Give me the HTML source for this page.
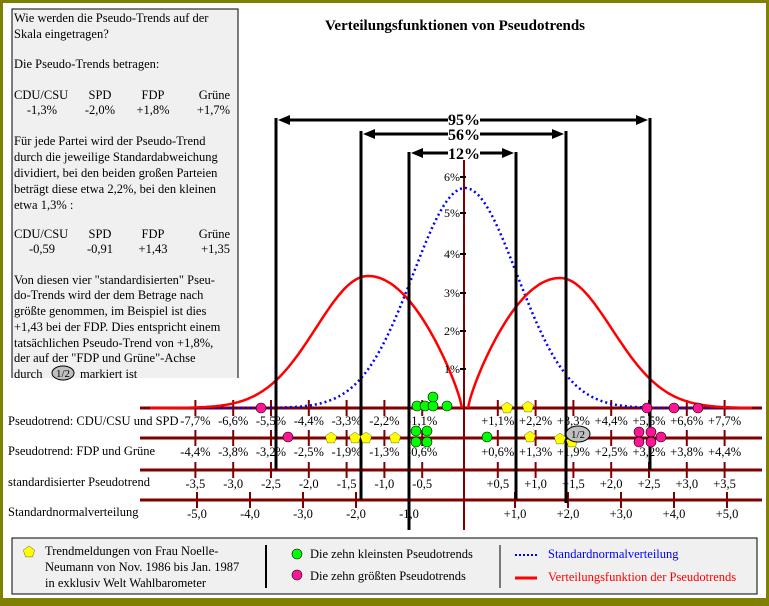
<!DOCTYPE html>
<html><head><meta charset="utf-8"><style>
html,body{margin:0;padding:0;background:#fff}
svg{display:block}
text{font-family:"Liberation Serif",serif}
</style></head><body>
<svg id="s" width="769" height="606" viewBox="0 0 769 606" xmlns="http://www.w3.org/2000/svg">
<rect x="0" y="0" width="769" height="606" fill="#808000"/>
<rect x="3" y="3" width="763" height="595" fill="#fff"/>
<rect x="12" y="9" width="226" height="369" fill="#f0f0f0"/>
<path d="M12 378V9H238V378" fill="none" stroke="#000" stroke-width="1"/>
<g font-size="12.5" fill="#000">
<text x="14" y="22">Wie werden die Pseudo-Trends auf der</text>
<text x="14" y="38">Skala eingetragen?</text>
<text x="14" y="68">Die Pseudo-Trends betragen:</text>
<text x="14" y="99">CDU/CSU</text><text x="100" y="99" text-anchor="middle">SPD</text><text x="153" y="99" text-anchor="middle">FDP</text><text x="230" y="99" text-anchor="end">Grüne</text>
<text x="42" y="114" text-anchor="middle">-1,3%</text><text x="100" y="114" text-anchor="middle">-2,0%</text><text x="153" y="114" text-anchor="middle">+1,8%</text><text x="230" y="114" text-anchor="end">+1,7%</text>
<text x="14" y="145">Für jede Partei wird der Pseudo-Trend</text>
<text x="14" y="161">durch die jeweilige Standardabweichung</text>
<text x="14" y="177">dividiert, bei den beiden großen Parteien</text>
<text x="14" y="193">beträgt diese etwa 2,2%, bei den kleinen</text>
<text x="14" y="209">etwa 1,3% :</text>
<text x="14" y="238">CDU/CSU</text><text x="100" y="238" text-anchor="middle">SPD</text><text x="153" y="238" text-anchor="middle">FDP</text><text x="230" y="238" text-anchor="end">Grüne</text>
<text x="42" y="253" text-anchor="middle">-0,59</text><text x="100" y="253" text-anchor="middle">-0,91</text><text x="153" y="253" text-anchor="middle">+1,43</text><text x="230" y="253" text-anchor="end">+1,35</text>
<text x="14" y="284">Von diesen vier "standardisierten" Pseu-</text>
<text x="14" y="299">do-Trends wird der dem Betrage nach</text>
<text x="14" y="315">größte genommen, im Beispiel ist dies</text>
<text x="14" y="331">+1,43 bei der FDP. Dies entspricht einem</text>
<text x="14" y="347">tatsächlichen Pseudo-Trend von +1,8%,</text>
<text x="14" y="362">der auf der "FDP und Grüne"-Achse</text>
<text x="14" y="378">durch</text>
<ellipse cx="63" cy="373" rx="11" ry="7" fill="#c0c0c0" stroke="#000"/><text x="63" y="377" text-anchor="middle" font-size="11">1/2</text>
<text x="80" y="378">markiert ist</text>
</g>
<text x="455" y="30" text-anchor="middle" font-size="15" font-weight="bold">Verteilungsfunktionen von Pseudotrends</text>
<g id="axes" stroke="#800000"></g>
<g id="curves"></g>
<g id="black" stroke="#000" stroke-width="3">
<line x1="276" y1="118" x2="276" y2="470"/>
<line x1="361" y1="131" x2="361" y2="500"/>
<line x1="409" y1="152" x2="409" y2="530"/>
<line x1="516" y1="152" x2="516" y2="500"/>
<line x1="566" y1="131" x2="566" y2="503"/>
<line x1="650" y1="118" x2="650" y2="470"/>
</g>
<g stroke="#000" stroke-width="3" fill="#000">
<line x1="285" y1="120" x2="641" y2="120"/><path d="M278 120l12-5v10zM648 120l-12-5v10z" stroke="none"/>
<line x1="370" y1="134" x2="557" y2="134"/><path d="M363 134l12-5v10zM564 134l-12-5v10z" stroke="none"/>
<line x1="418" y1="153" x2="507" y2="153"/><path d="M411 153l12-5v10zM514 153l-12-5v10z" stroke="none"/>
</g>
<g font-size="16" font-weight="bold" text-anchor="middle">
<rect x="448" y="112" width="32" height="14" fill="#fff"/><text x="464" y="125">95%</text>
<rect x="448" y="127" width="32" height="14" fill="#fff"/><text x="464" y="140">56%</text>
<rect x="448" y="146" width="32" height="14" fill="#fff"/><text x="464" y="159">12%</text>
</g>
<g id="ylab" font-size="12" text-anchor="end"></g>
<g id="labels" font-size="12.5"></g>
<g id="dots"></g>
<ellipse cx="578" cy="434" rx="12" ry="8" fill="#c0c0c0" stroke="#000"/><text x="578" y="438" text-anchor="middle" font-size="11" font-family="Liberation Serif">1/2</text>
<rect x="12" y="538" width="745" height="56" fill="#f0f0f0" stroke="#000"/>
<line x1="266" y1="545" x2="266" y2="588" stroke="#000" stroke-width="2"/>
<line x1="500" y1="545" x2="500" y2="588" stroke="#000"/>
<g font-size="12.5">
<text x="45" y="555">Trendmeldungen von Frau Noelle-</text>
<text x="45" y="571">Neumann von Nov. 1986 bis Jan. 1987</text>
<text x="45" y="587">in exklusiv Welt Wahlbarometer</text>
<text x="310" y="558">Die zehn kleinsten Pseudotrends</text>
<text x="310" y="580">Die zehn größten Pseudotrends</text>
<text x="548" y="558" fill="#0000ff">Standardnormalverteilung</text>
<text x="548" y="581" fill="#ff0000">Verteilungsfunktion der  Pseudotrends</text>
</g>
<line x1="515" y1="555" x2="537" y2="555" stroke="#0000ff" stroke-width="2" stroke-dasharray="2,2"/>
<line x1="515" y1="578" x2="537" y2="578" stroke="#ff0000" stroke-width="3"/>
<g id="leg"></g>
</svg>
<script>
var NS="http://www.w3.org/2000/svg";
function el(p,t,a,txt){var e=document.createElementNS(NS,t);for(var k in a)e.setAttribute(k,a[k]);if(txt!=null)e.textContent=txt;document.getElementById(p).appendChild(e);return e;}
var rows=[408,438,470,500];
rows.forEach(function(y){el("axes","line",{x1:140,y1:y,x2:762,y2:y,"stroke-width":3});});
el("axes","line",{x1:464,y1:160,x2:464,y2:530,"stroke-width":2});
var c=460,st=37.8;
var l1=["1,1","2,2","3,3","4,4","5,5","6,6","7,7"],l2=["0,6","1,3","1,9","2,5","3,2","3,8","4,4"],l3=["0,5","1,0","1,5","2,0","2,5","3,0","3,5"];
for(var k=1;k<=7;k++){
 [-1,1].forEach(function(s){
  var x=c+s*k*st;
  [408,438,470].forEach(function(y){el("axes","line",{x1:x,y1:y-8,x2:x,y2:y+8,"stroke-width":2});});
  var sg=s<0?"-":"+";
  el("labels","text",{x:x,y:425,"text-anchor":"middle"},sg+l1[k-1]+"%");
  el("labels","text",{x:x,y:456,"text-anchor":"middle"},sg+l2[k-1]+"%");
  el("labels","text",{x:x,y:488,"text-anchor":"middle"},sg+l3[k-1]);
 });
}
for(var k=1;k<=5;k++){[-1,1].forEach(function(s){var x=462+s*k*53;el("axes","line",{x1:x,y1:492,x2:x,y2:508,"stroke-width":2});el("labels","text",{x:x,y:518,"text-anchor":"middle"},(s<0?"-":"+")+k+",0");});}
el("labels","text",{x:8,y:425},"Pseudotrend: CDU/CSU und SPD");
el("labels","text",{x:8,y:455},"Pseudotrend: FDP und Grüne");
el("labels","text",{x:8,y:486},"standardisierter Pseudotrend");
el("labels","text",{x:8,y:516},"Standardnormalverteilung");
var yt=[[1,369],[2,331],[3,293],[4,254],[5,213],[6,177]];
yt.forEach(function(t){el("axes","line",{x1:460,y1:t[1],x2:466,y2:t[1],stroke:"#000","stroke-width":2});el("ylab","text",{x:460,y:t[1]+4},t[0]+"%");});
var d="";for(var x=190;x<=740;x+=2){var z=(x-465)/52;var h=220*Math.exp(-z*z/2);var y=408-h;d+=(x==190?"M":"L")+x+" "+y.toFixed(1);}
el("curves","path",{d:d,fill:"none",stroke:"#0000ff","stroke-width":2.5,"stroke-dasharray":"2,3"});
function redL(x){var d0=x-368;if(d0<=0){return 132*Math.exp(-d0*d0/(2*52*52));}if(d0>=94)return 0;return 132*Math.pow(Math.cos(Math.PI/2*d0/94),0.8);}
function redR(x){var d0=560-x;if(d0<=0){return 130*Math.exp(-d0*d0/(2*52*52));}if(d0>=92)return 0;return 130*Math.pow(Math.cos(Math.PI/2*d0/92),0.8);}
var r1="",r2="";for(var x=150;x<=462;x+=2){r1+=(x==150?"M":"L")+x+" "+(408-redL(x)).toFixed(1);}
for(var x=468;x<=752;x+=2){r2+=(x==468?"M":"L")+x+" "+(408-redR(x)).toFixed(1);}
el("curves","path",{d:r1,fill:"none",stroke:"#ff0000","stroke-width":2.5});
el("curves","path",{d:r2,fill:"none",stroke:"#ff0000","stroke-width":2.5});
function dot(g,x,y,col){el(g,"circle",{cx:x,cy:y,r:5,fill:col,stroke:"#000","stroke-width":0.6});}
function pent(g,x,y){var p=[];for(var i=0;i<5;i++){var a=-Math.PI/2+i*2*Math.PI/5;p.push((x+6*Math.cos(a)).toFixed(1)+","+(y+6*Math.sin(a)).toFixed(1));}el(g,"polygon",{points:p.join(" "),fill:"#ffff00",stroke:"#000","stroke-width":0.3});}
var P="#ff1493",G="#00ff00";
[261,647,674,698].forEach(function(x){dot("dots",x,408,P);});
[[417,406],[425,406],[433,406],[433,397],[447,406]].forEach(function(p){dot("dots",p[0],p[1],G);});
pent("dots",507,408);pent("dots",528,407);
dot("dots",288,437,P);
[331,355,366,395].forEach(function(x){pent("dots",x,438);});
[[416,431],[427,431],[416,442],[427,442],[487,437]].forEach(function(p){dot("dots",p[0],p[1],G);});
pent("dots",530,437);pent("dots",560,439);pent("dots",572,442);
[[639,432],[639,442],[651,432],[651,442],[661,437]].forEach(function(p){dot("dots",p[0],p[1],P);});
pent("leg",29,552);dot("leg",297,554,G);dot("leg",297,575,P);
</script>
</body></html>
